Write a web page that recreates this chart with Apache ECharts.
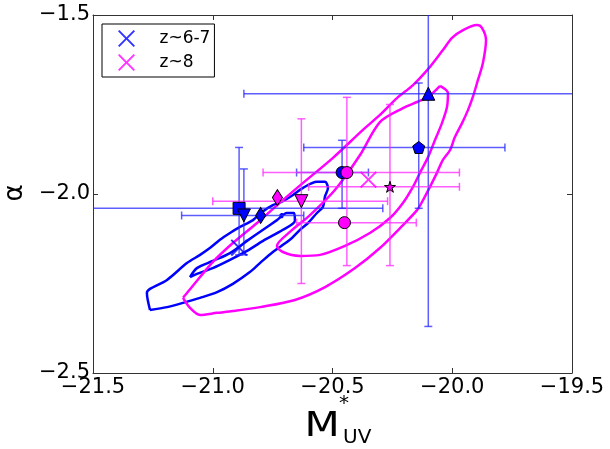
<!DOCTYPE html>
<html>
<head>
<meta charset="utf-8">
<script src="https://cdn.jsdelivr.net/npm/echarts@6/dist/echarts.min.js"></script>
<style>html,body{margin:0;padding:0;background:#fff}#main{width:610px;height:449px}</style>
</head>
<body>
<div id="main"></div>
<script>
let myChart = echarts.init(document.getElementById('main'));

const xRange = [-21.5, -19.5];
const yRange = [-2.5, -1.5];

// z~6-7 literature points [M_UV, alpha]
const blueCentres = [[-20.89, -2.04], [-20.87, -2.06], [-20.80, -2.06], [-20.46, -1.94], [-20.14, -1.87], [-20.10, -1.72]];
const blueXErr = [[-22.5, -20.29], [-21.13, -20.62], null, [-20.65, -20.35], [-20.62, -19.78], [-20.87, -18.5]];
const blueYErr = [[-2.17, -1.87], [-2.17, -1.93], null, [-2.04, -1.85], [-2.04, -1.69], [-2.37, -1.2]];
const blueBest = [-20.89, -2.15];

// z~8 literature points
const magCentres = [[-20.73, -2.01], [-20.63, -2.02], [-20.44, -1.94], [-20.45, -2.08], [-20.26, -1.98]];
const magXErr = [null, [-21.0, -20.27], [-20.79, -19.97], [-20.65, -20.15], [-20.60, -19.97]];
const magYErr = [null, [-2.25, -1.79], [-2.20, -1.73], null, [-2.20, -1.75]];
const magBest = [-20.35, -1.96];

// confidence contours
const blueOuter = [[-21.262,-2.324],[-21.275,-2.276],[-21.262,-2.265],[-21.191,-2.240],[-21.108,-2.193],[-21.053,-2.170],[-21.012,-2.151],[-20.970,-2.128],[-20.928,-2.109],[-20.886,-2.092],[-20.832,-2.073],[-20.794,-2.050],[-20.749,-2.031],[-20.707,-2.020],[-20.665,-2.003],[-20.623,-1.983],[-20.565,-1.966],[-20.531,-1.966],[-20.519,-1.983],[-20.531,-2.006],[-20.540,-2.036],[-20.565,-2.053],[-20.602,-2.081],[-20.636,-2.100],[-20.678,-2.128],[-20.749,-2.162],[-20.803,-2.193],[-20.845,-2.218],[-20.916,-2.251],[-20.982,-2.274],[-21.053,-2.290],[-21.124,-2.304],[-21.191,-2.316],[-21.262,-2.324]];
const blueInner = [[-21.095,-2.232],[-21.066,-2.207],[-21.0,-2.187],[-20.928,-2.165],[-20.857,-2.131],[-20.790,-2.100],[-20.732,-2.073],[-20.690,-2.053],[-20.661,-2.053],[-20.657,-2.075],[-20.707,-2.100],[-20.790,-2.131],[-20.857,-2.159],[-20.928,-2.184],[-21.0,-2.207],[-21.066,-2.223],[-21.095,-2.232]];
const blueIsland = [[-20.717,-2.056],[-20.709,-2.056],[-20.709,-2.065],[-20.717,-2.065],[-20.717,-2.056]];
const magOuter = [[-21.124,-2.290],[-21.053,-2.232],[-21.0,-2.190],[-20.916,-2.137],[-20.815,-2.081],[-20.707,-2.017],[-20.623,-1.969],[-20.498,-1.899],[-20.373,-1.821],[-20.302,-1.779],[-20.231,-1.732],[-20.164,-1.696],[-20.093,-1.645],[-20.039,-1.598],[-20.001,-1.564],[-19.955,-1.542],[-19.897,-1.528],[-19.876,-1.536],[-19.859,-1.570],[-19.872,-1.634],[-19.893,-1.682],[-19.914,-1.729],[-19.934,-1.765],[-19.959,-1.802],[-19.989,-1.841],[-20.009,-1.877],[-20.039,-1.905],[-20.064,-1.941],[-20.093,-1.980],[-20.122,-2.017],[-20.147,-2.045],[-20.218,-2.095],[-20.302,-2.151],[-20.406,-2.207],[-20.531,-2.260],[-20.657,-2.296],[-20.803,-2.316],[-20.916,-2.327],[-20.982,-2.332],[-21.053,-2.338],[-21.095,-2.318],[-21.124,-2.290]];
const magInner = [[-20.051,-1.698],[-20.018,-1.718],[-20.022,-1.757],[-20.043,-1.802],[-20.072,-1.849],[-20.101,-1.897],[-20.135,-1.941],[-20.164,-1.980],[-20.206,-2.025],[-20.260,-2.067],[-20.344,-2.109],[-20.448,-2.145],[-20.552,-2.170],[-20.636,-2.173],[-20.707,-2.162],[-20.732,-2.145],[-20.678,-2.106],[-20.594,-2.059],[-20.490,-1.989],[-20.385,-1.891],[-20.302,-1.799],[-20.206,-1.760],[-20.147,-1.743],[-20.101,-1.729],[-20.051,-1.698]];

const BLUE = '#0000ff';
const MAG = '#ff00ff';
const FONT = 'DejaVu Sans';
const PENTAGON = 'path://M0,-1L0.951,-0.309L0.588,0.809L-0.588,0.809L-0.951,-0.309Z';
const STAR = 'path://M0,-1L0.225,-0.309L0.951,-0.309L0.363,0.118L0.588,0.809L0,0.382L-0.588,0.809L-0.363,0.118L-0.951,-0.309L-0.225,-0.309Z';
const CROSS = 'path://M0,0.8L0.8,0L5,4.2L9.2,0L10,0.8L5.8,5L10,9.2L9.2,10L5,5.8L0.8,10L0,9.2L4.2,5Z';

const blueSym = [['rect', 12, 0], ['triangle', 13, 180], ['diamond', [10, 16], 0], ['circle', 12, 0], [PENTAGON, 12, 0], ['triangle', 13, 0]];
const magSym = [['diamond', [10, 16], 0], ['triangle', 13, 180], ['circle', 12, 0], ['circle', 12, 0], [STAR, 11, 0]];

function fmt(v) {
  return (v < 0 ? '\u2212' : '') + Math.abs(v).toFixed(1);
}

function errorSeries(centres, xErr, yErr, color) {
  const data = centres.map(function (c, i) {
    const xe = xErr[i] || [NaN, NaN];
    const ye = yErr[i] || [NaN, NaN];
    return [c[0], c[1], xe[0], xe[1], ye[0], ye[1]];
  });
  return {
    type: 'custom',
    silent: true,
    z: 2,
    data: data,
    encode: { x: 0, y: 1 },
    renderItem: function (params, api) {
      const cs = params.coordSys;
      const left = cs.x, right = cs.x + cs.width, top = cs.y, bottom = cs.y + cs.height;
      const c = api.coord([api.value(0), api.value(1)]);
      const style = { stroke: color, lineWidth: 1.5 };
      const kids = [];
      const cap = 4;
      const clampX = v => Math.max(left, Math.min(right, v));
      const clampY = v => Math.max(top, Math.min(bottom, v));
      const xl = api.value(2), xh = api.value(3);
      if (!isNaN(xl)) {
        const a = api.coord([xl, api.value(1)])[0];
        const b = api.coord([xh, api.value(1)])[0];
        kids.push({ type: 'line', shape: { x1: clampX(a), y1: c[1], x2: clampX(b), y2: c[1] }, style: style });
        if (a >= left) kids.push({ type: 'line', shape: { x1: a, y1: c[1] - cap, x2: a, y2: c[1] + cap }, style: style });
        if (b <= right) kids.push({ type: 'line', shape: { x1: b, y1: c[1] - cap, x2: b, y2: c[1] + cap }, style: style });
      }
      const yl = api.value(4), yh = api.value(5);
      if (!isNaN(yl)) {
        const a = api.coord([api.value(0), yl])[1];
        const b = api.coord([api.value(0), yh])[1];
        kids.push({ type: 'line', shape: { x1: c[0], y1: clampY(a), x2: c[0], y2: clampY(b) }, style: style });
        if (a <= bottom) kids.push({ type: 'line', shape: { x1: c[0] - cap, y1: a, x2: c[0] + cap, y2: a }, style: style });
        if (b >= top) kids.push({ type: 'line', shape: { x1: c[0] - cap, y1: b, x2: c[0] + cap, y2: b }, style: style });
      }
      return { type: 'group', children: kids };
    }
  };
}

function markerSeries(centres, sym, color) {
  return {
    type: 'scatter',
    silent: true,
    z: 4,
    data: centres.map(function (c, i) {
      return { value: c, symbol: sym[i][0], symbolSize: sym[i][1], symbolRotate: sym[i][2] };
    }),
    itemStyle: { color: color, borderColor: '#000', borderWidth: 1, opacity: 1 }
  };
}

function contour(points, color, width) {
  return {
    type: 'line',
    silent: true,
    z: 1,
    data: points,
    showSymbol: false,
    smooth: 0.3,
    lineStyle: { color: color, width: width || 2.5 }
  };
}

const axisLine = { show: true, onZero: false, lineStyle: { color: '#333', width: 1 } };
const axisTick = { show: true, inside: true, length: 5, lineStyle: { color: '#333', width: 1 } };

let option = {
  animation: false,
  grid: { left: 93, top: 15, width: 479, height: 358, containLabel: false },
  xAxis: [
    {
      type: 'value', min: xRange[0], max: xRange[1], interval: 0.5, position: 'bottom',
      axisLine: axisLine, axisTick: axisTick, splitLine: { show: false },
      axisLabel: { formatter: fmt, fontSize: 21, fontFamily: FONT, color: '#000', margin: 4 }
    },
    {
      type: 'value', min: xRange[0], max: xRange[1], interval: 0.5, position: 'top',
      axisLine: axisLine, axisTick: axisTick, splitLine: { show: false }, axisLabel: { show: false }
    }
  ],
  yAxis: [
    {
      type: 'value', min: yRange[0], max: yRange[1], interval: 0.5, position: 'left',
      axisLine: axisLine, axisTick: axisTick, splitLine: { show: false },
      axisLabel: { formatter: fmt, fontSize: 21, fontFamily: FONT, color: '#000', margin: 3 }
    },
    {
      type: 'value', min: yRange[0], max: yRange[1], interval: 0.5, position: 'right',
      axisLine: axisLine, axisTick: axisTick, splitLine: { show: false }, axisLabel: { show: false }
    }
  ],
  legend: {
    data: ['z~6-7', 'z~8'],
    orient: 'vertical',
    left: 102, top: 24,
    padding: [6, 4, 6, 16],
    itemWidth: 48, itemHeight: 17, itemGap: 7,
    icon: CROSS,
    borderColor: '#000', borderWidth: 1, borderRadius: 0,
    backgroundColor: '#fff',
    textStyle: { fontSize: 17, fontFamily: FONT, color: '#000', padding: [0, 0, 0, 4] }
  },
  graphic: [
    { type: 'text', x: 15, y: 193, rotation: Math.PI / 2, style: { text: 'α', fontSize: 26, fontFamily: FONT, fill: '#000', align: 'center', verticalAlign: 'middle' } },
    { type: 'text', x: 322, y: 427, scaleX: 1.2, style: { text: 'M', fontSize: 34, fontFamily: FONT, fill: '#000', align: 'center', verticalAlign: 'middle' } },
    { type: 'text', x: 343, y: 438, style: { text: 'UV', fontSize: 20, fontFamily: FONT, fill: '#000', align: 'left', verticalAlign: 'middle' } },
    { type: 'text', x: 344, y: 404, style: { text: '*', fontSize: 20, fontFamily: FONT, fill: '#000', align: 'center', verticalAlign: 'middle' } }
  ],
  series: [
    contour(blueOuter, BLUE),
    contour(blueInner, BLUE),
    contour(blueIsland, BLUE, 2),
    contour(magOuter, MAG),
    contour(magInner, MAG),
    errorSeries(blueCentres, blueXErr, blueYErr, 'rgba(40,40,255,0.75)'),
    errorSeries(magCentres, magXErr, magYErr, 'rgba(255,40,255,0.75)'),
    markerSeries(blueCentres, blueSym, BLUE),
    markerSeries(magCentres, magSym, MAG),
    { name: 'z~6-7', type: 'scatter', silent: true, z: 5, symbol: CROSS, symbolSize: 17, data: [blueBest], itemStyle: { color: BLUE } },
    { name: 'z~8', type: 'scatter', silent: true, z: 5, symbol: CROSS, symbolSize: 17, data: [magBest], itemStyle: { color: MAG } }
  ]
};

myChart.setOption(option);
</script>
</body>
</html>
